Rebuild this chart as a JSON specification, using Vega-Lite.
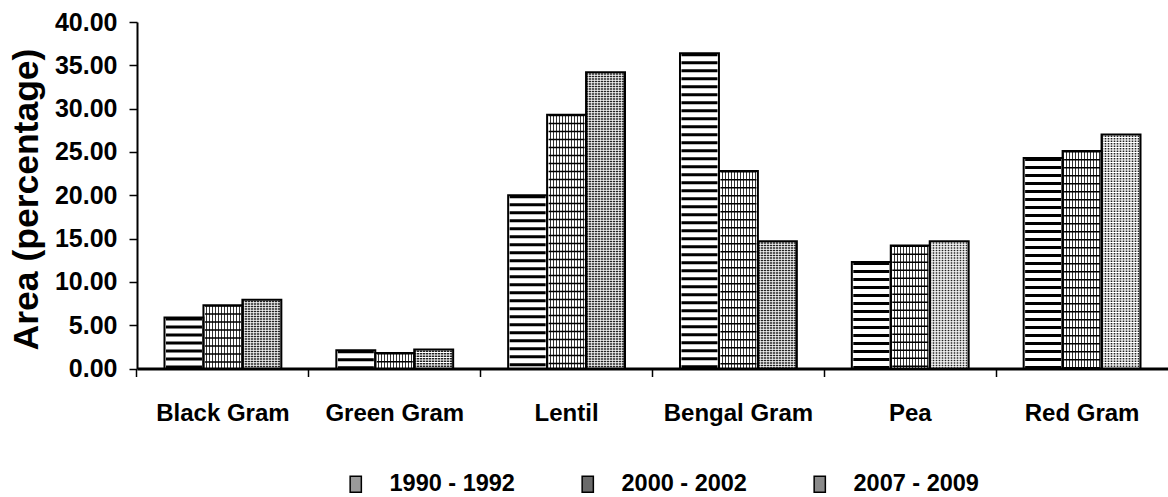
{
  "$schema": "https://vega.github.io/schema/vega-lite/v6.json",
  "width": 1031,
  "height": 346.5,
  "autosize": {"type": "none"},
  "padding": {"left": 137, "top": 22, "right": 0, "bottom": 128.5},
  "background": "#ffffff",
  "config": {
    "view": {"stroke": null},
    "font": "Liberation Sans",
    "axis": {"labelFont": "Liberation Sans", "titleFont": "Liberation Sans", "labelColor": "#000000", "titleColor": "#000000"},
    "legend": {"labelFont": "Liberation Sans"}
  },
  "data": {
    "values": [
      {"crop": "Black Gram", "period": "1990 - 1992", "value": 5.9},
      {"crop": "Black Gram", "period": "2000 - 2002", "value": 7.3},
      {"crop": "Black Gram", "period": "2007 - 2009", "value": 7.95},
      {"crop": "Green Gram", "period": "1990 - 1992", "value": 2.1},
      {"crop": "Green Gram", "period": "2000 - 2002", "value": 1.8},
      {"crop": "Green Gram", "period": "2007 - 2009", "value": 2.2},
      {"crop": "Lentil", "period": "1990 - 1992", "value": 20.0},
      {"crop": "Lentil", "period": "2000 - 2002", "value": 29.3},
      {"crop": "Lentil", "period": "2007 - 2009", "value": 34.2},
      {"crop": "Bengal Gram", "period": "1990 - 1992", "value": 36.4},
      {"crop": "Bengal Gram", "period": "2000 - 2002", "value": 22.8},
      {"crop": "Bengal Gram", "period": "2007 - 2009", "value": 14.7},
      {"crop": "Pea", "period": "1990 - 1992", "value": 12.3},
      {"crop": "Pea", "period": "2000 - 2002", "value": 14.2},
      {"crop": "Pea", "period": "2007 - 2009", "value": 14.7},
      {"crop": "Red Gram", "period": "1990 - 1992", "value": 24.3},
      {"crop": "Red Gram", "period": "2000 - 2002", "value": 25.1},
      {"crop": "Red Gram", "period": "2007 - 2009", "value": 27.0}
    ]
  },
  "encoding": {
    "x": {
      "field": "crop",
      "type": "nominal",
      "sort": ["Black Gram", "Green Gram", "Lentil", "Bengal Gram", "Pea", "Red Gram"],
      "scale": {"paddingInner": 0.32, "paddingOuter": 0.16},
      "axis": {
        "title": null,
        "labelAngle": 0,
        "labelFontSize": 24,
        "labelFontWeight": "bold",
        "labelPadding": 25,
        "tickSize": 8,
        "tickWidth": 1.5,
        "tickColor": "#000000",
        "bandPosition": -0.2353,
        "domainColor": "#000000",
        "domainWidth": 3
      }
    },
    "xOffset": {
      "field": "period",
      "type": "nominal",
      "sort": ["1990 - 1992", "2000 - 2002", "2007 - 2009"]
    },
    "y": {
      "field": "value",
      "type": "quantitative",
      "scale": {"domain": [0, 40], "nice": false},
      "axis": {
        "title": "Area (percentage)",
        "titleFontSize": 35.5,
        "titleFontWeight": "bold",
        "titleAngle": -90,
        "titleBaseline": "alphabetic",
        "titleAlign": "center",
        "titleX": -100,
        "titleY": 177,
        "values": [0, 5, 10, 15, 20, 25, 30, 35, 40],
        "format": ".2f",
        "labelFontSize": 25,
        "labelFontWeight": "bold",
        "labelPadding": 12,
        "tickSize": 8,
        "tickWidth": 1.5,
        "tickColor": "#000000",
        "domainColor": "#000000",
        "domainWidth": 2,
        "grid": false
      }
    }
  },
  "layer": [
    {
      "mark": {"type": "bar"},
      "encoding": {
        "fill": {
          "field": "period",
          "type": "nominal",
          "scale": {"domain": ["1990 - 1992", "2000 - 2002", "2007 - 2009"], "range": ["#9a9a9a", "#6a6a6a", "#8a8a8a"]},
          "legend": {
            "title": null,
            "orient": "none",
            "direction": "horizontal",
            "columns": 3,
            "legendX": 207,
            "legendY": 450,
            "padding": 0,
            "columnPadding": 61,
            "symbolType": "M-0.7,-1H0.7V1H-0.7Z",
            "symbolSize": 256,
            "symbolStrokeColor": "#000000",
            "symbolStrokeWidth": 1.5,
            "symbolDash": [],
            "symbolOpacity": 1,
            "labelOffset": 22,
            "labelFontSize": 23.5,
            "labelFontWeight": "bold",
            "labelColor": "#000000"
          }
        }
      }
    },
    {
      "mark": {"type": "bar"},
      "encoding": {
        "fill": {
          "condition": [
            {
              "test": "datum.period == '2000 - 2002'",
              "value": {
                "gradient": "linear", "x1": 0, "y1": 0, "x2": 1, "y2": 0,
                "stops": [
                  {"offset": 0, "color": "#333333"}, {"offset": 0.027, "color": "#333333"}, {"offset": 0.027, "color": "#ffffff"}, {"offset": 0.0769, "color": "#ffffff"},
                  {"offset": 0.0769, "color": "#333333"}, {"offset": 0.1039, "color": "#333333"}, {"offset": 0.1039, "color": "#ffffff"}, {"offset": 0.1538, "color": "#ffffff"},
                  {"offset": 0.1538, "color": "#333333"}, {"offset": 0.1808, "color": "#333333"}, {"offset": 0.1808, "color": "#ffffff"}, {"offset": 0.2308, "color": "#ffffff"},
                  {"offset": 0.2308, "color": "#333333"}, {"offset": 0.2578, "color": "#333333"}, {"offset": 0.2578, "color": "#ffffff"}, {"offset": 0.3077, "color": "#ffffff"},
                  {"offset": 0.3077, "color": "#333333"}, {"offset": 0.3347, "color": "#333333"}, {"offset": 0.3347, "color": "#ffffff"}, {"offset": 0.3846, "color": "#ffffff"},
                  {"offset": 0.3846, "color": "#333333"}, {"offset": 0.4116, "color": "#333333"}, {"offset": 0.4116, "color": "#ffffff"}, {"offset": 0.4615, "color": "#ffffff"},
                  {"offset": 0.4615, "color": "#333333"}, {"offset": 0.4885, "color": "#333333"}, {"offset": 0.4885, "color": "#ffffff"}, {"offset": 0.5385, "color": "#ffffff"},
                  {"offset": 0.5385, "color": "#333333"}, {"offset": 0.5655, "color": "#333333"}, {"offset": 0.5655, "color": "#ffffff"}, {"offset": 0.6154, "color": "#ffffff"},
                  {"offset": 0.6154, "color": "#333333"}, {"offset": 0.6424, "color": "#333333"}, {"offset": 0.6424, "color": "#ffffff"}, {"offset": 0.6923, "color": "#ffffff"},
                  {"offset": 0.6923, "color": "#333333"}, {"offset": 0.7193, "color": "#333333"}, {"offset": 0.7193, "color": "#ffffff"}, {"offset": 0.7692, "color": "#ffffff"},
                  {"offset": 0.7692, "color": "#333333"}, {"offset": 0.7962, "color": "#333333"}, {"offset": 0.7962, "color": "#ffffff"}, {"offset": 0.8462, "color": "#ffffff"},
                  {"offset": 0.8462, "color": "#333333"}, {"offset": 0.8732, "color": "#333333"}, {"offset": 0.8732, "color": "#ffffff"}, {"offset": 0.9231, "color": "#ffffff"},
                  {"offset": 0.9231, "color": "#333333"}, {"offset": 0.9501, "color": "#333333"}, {"offset": 0.9501, "color": "#ffffff"}, {"offset": 1, "color": "#ffffff"}
                ]
              }
            },
            {
              "test": "datum.period == '2007 - 2009'",
              "value": {
                "gradient": "linear", "x1": 0, "y1": 0, "x2": 1, "y2": 0,
                "stops": [
                  {"offset": 0, "color": "#222222"}, {"offset": 0.045, "color": "#222222"}, {"offset": 0.045, "color": "#b4b4b4"}, {"offset": 0.0769, "color": "#b4b4b4"},
                  {"offset": 0.0769, "color": "#222222"}, {"offset": 0.1219, "color": "#222222"}, {"offset": 0.1219, "color": "#b4b4b4"}, {"offset": 0.1538, "color": "#b4b4b4"},
                  {"offset": 0.1538, "color": "#222222"}, {"offset": 0.1988, "color": "#222222"}, {"offset": 0.1988, "color": "#b4b4b4"}, {"offset": 0.2308, "color": "#b4b4b4"},
                  {"offset": 0.2308, "color": "#222222"}, {"offset": 0.2758, "color": "#222222"}, {"offset": 0.2758, "color": "#b4b4b4"}, {"offset": 0.3077, "color": "#b4b4b4"},
                  {"offset": 0.3077, "color": "#222222"}, {"offset": 0.3527, "color": "#222222"}, {"offset": 0.3527, "color": "#b4b4b4"}, {"offset": 0.3846, "color": "#b4b4b4"},
                  {"offset": 0.3846, "color": "#222222"}, {"offset": 0.4296, "color": "#222222"}, {"offset": 0.4296, "color": "#b4b4b4"}, {"offset": 0.4615, "color": "#b4b4b4"},
                  {"offset": 0.4615, "color": "#222222"}, {"offset": 0.5065, "color": "#222222"}, {"offset": 0.5065, "color": "#b4b4b4"}, {"offset": 0.5385, "color": "#b4b4b4"},
                  {"offset": 0.5385, "color": "#222222"}, {"offset": 0.5835, "color": "#222222"}, {"offset": 0.5835, "color": "#b4b4b4"}, {"offset": 0.6154, "color": "#b4b4b4"},
                  {"offset": 0.6154, "color": "#222222"}, {"offset": 0.6604, "color": "#222222"}, {"offset": 0.6604, "color": "#b4b4b4"}, {"offset": 0.6923, "color": "#b4b4b4"},
                  {"offset": 0.6923, "color": "#222222"}, {"offset": 0.7373, "color": "#222222"}, {"offset": 0.7373, "color": "#b4b4b4"}, {"offset": 0.7692, "color": "#b4b4b4"},
                  {"offset": 0.7692, "color": "#222222"}, {"offset": 0.8142, "color": "#222222"}, {"offset": 0.8142, "color": "#b4b4b4"}, {"offset": 0.8462, "color": "#b4b4b4"},
                  {"offset": 0.8462, "color": "#222222"}, {"offset": 0.8912, "color": "#222222"}, {"offset": 0.8912, "color": "#b4b4b4"}, {"offset": 0.9231, "color": "#b4b4b4"},
                  {"offset": 0.9231, "color": "#222222"}, {"offset": 0.9681, "color": "#222222"}, {"offset": 0.9681, "color": "#b4b4b4"}, {"offset": 1, "color": "#b4b4b4"}
                ]
              }
            }
          ],
          "value": "#ffffff"
        }
      }
    },
    {
      "mark": {"type": "rule", "strokeWidth": 36, "strokeCap": "butt"},
      "encoding": {
        "y2": {"datum": 0},
        "stroke": {
          "condition": {"test": "datum.period == '2007 - 2009'", "value": "#ffffff"},
          "value": "#000000"
        },
        "strokeDash": {
          "condition": [
            {"test": "datum.period == '1990 - 1992'", "value": [3, 5]},
            {"test": "datum.period == '2000 - 2002'", "value": [1.5, 6.5]}
          ],
          "value": [1, 1.5]
        }
      }
    },
    {
      "mark": {"type": "bar", "fill": "#ffffff", "fillOpacity": 0, "stroke": "#000000", "strokeWidth": 2},
      "encoding": {}
    }
  ]
}
